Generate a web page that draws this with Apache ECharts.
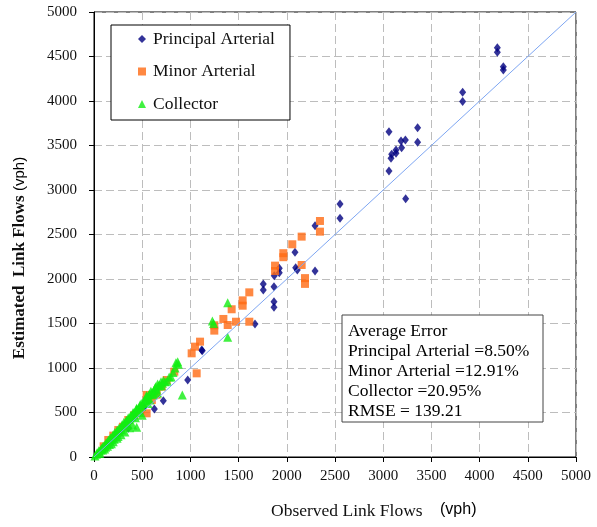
<!DOCTYPE html>
<html>
<head>
<meta charset="utf-8">
<script src="https://cdn.jsdelivr.net/npm/echarts@6/dist/echarts.min.js"></script>
<style>
html,body{margin:0;padding:0;background:#fff;}
#chart{width:597px;height:527px;}
</style>
</head>
<body>
<div id="chart"></div>
<script>
// ---- data (observed, estimated) ----
const seriesNames = ['Principal Arterial', 'Minor Arterial', 'Collector'];
const axisTicks = [0, 500, 1000, 1500, 2000, 2500, 3000, 3500, 4000, 4500, 5000];

const principalArterial = [
  [4184,4599],[4184,4547],[4246,4386],[4246,4348],[3824,4098],[3824,3993],
  [3357,3700],[3357,3536],[3060,3655],[3060,3213],[3081,3356],[3088,3401],
  [3133,3449],[3133,3412],[3185,3551],[3230,3562],[3191,3476],[3233,2902],
  [2552,2843],[2552,2682],[2293,2599],[2085,2300],[2092,2127],[2109,2101],
  [2293,2090],[1922,2120],[1922,2071],[1870,2037],[1756,1944],[1756,1876],
  [1867,1914],[1867,1745],[1867,1682],[1670,1494],[1117,1202],[1123,1195],
  [972,865],[633,716],[719,633],[626,539],[356,322],[520,560],[250,265]
];

const minorArterial = [
  [2344,2652],[2344,2532],[2154,2476],[2057,2390],[1964,2290],[1964,2245],
  [1878,2150],[1878,2090],[2154,2157],[2189,2010],[2189,1945],[1611,1850],
  [1542,1760],[1542,1700],[1428,1660],[1342,1551],[1473,1520],[1387,1483],
  [1611,1520],[1248,1480],[1248,1420],[1100,1296],[1048,1240],[1013,1165],
  [1065,940],[833,958],[754,865],[702,790],[546,697],[546,491],[356,416],
  [252,303],[148,191],[420,470],[600,640],[650,700],[480,520],[300,340],
  [200,240],[100,120]
];

const collector = [
  [1387,1734],[1228,1528],[1387,1345],[868,1071],[875,1041],[916,697],
  [695,846],[667,798],[633,772],[581,708],[546,678],[477,584],[443,547],
  [408,491],[443,333],[287,303],[737,846],
  [10,10],[25,30],[40,45],[55,65],[70,80],[85,100],[100,115],[115,135],
  [130,150],[145,170],[160,185],[175,200],[190,220],[205,240],[220,255],
  [235,275],[250,290],[265,310],[280,330],[300,350],[315,370],[330,385],
  [345,405],[360,420],[375,440],[390,455],[410,475],[425,500],[460,530],
  [495,570],[510,600],[530,640],[560,660],[600,720],[620,745],[650,760],
  [680,810],[710,830],[760,850],[800,900],[840,1000],[850,1060],
  [60,40],[110,90],[160,140],[200,170],[240,210],[280,250],[320,280],
  [370,330],[400,360],[500,470],[250,230],[180,150],[120,110],
  [30,45],[50,70],[75,95],[95,125],[125,160],[150,190],[170,215],[195,245],
  [215,275],[240,300],[260,325],[290,360],[310,390],[335,410],[355,440],
  [380,465],[405,500],[440,540],[470,560],[490,600],[520,630],[545,690],
  [570,700],[590,740],[640,790],[660,820],[700,800],[720,860],[780,900],
  [820,950],[560,600],[470,500],[430,440],[340,350],[210,200],[140,120],
  [90,80],[620,700],[660,720],[580,640],[1240,1500]
];

const statsLines = [
  'Average Error',
  'Principal Arterial =8.50%',
  'Minor Arterial =12.91%',
  'Collector =20.95%',
  'RMSE = 139.21'
];

const SERIF = '"Liberation Serif", "DejaVu Serif", serif';
const SANS = '"Liberation Sans", Arial, sans-serif';

const chart = echarts.init(document.getElementById('chart'), null, {renderer: 'canvas'});

const axisCommon = {
  type: 'value',
  min: axisTicks[0],
  max: axisTicks[axisTicks.length - 1],
  interval: axisTicks[1] - axisTicks[0],
  axisLine: {show: true, lineStyle: {color: '#000', width: 1}},
  axisTick: {show: true, inside: false, length: 5, lineStyle: {color: '#000'}},
  splitLine: {show: true, lineStyle: {color: '#bdbdbd', type: [8, 4], width: 1}},
  axisLabel: {fontFamily: SERIF, fontSize: 15, color: '#111', formatter: function (v) { return String(v); }}
};

chart.setOption({
  backgroundColor: '#fff',
  animation: false,
  grid: {left: 94, right: 21, top: 12, bottom: 70, show: true, borderColor: '#000', borderWidth: 1, backgroundColor: 'transparent'},
  xAxis: Object.assign({}, axisCommon, {axisLabel: Object.assign({}, axisCommon.axisLabel, {margin: 12})}),
  yAxis: Object.assign({}, axisCommon, {axisLabel: Object.assign({}, axisCommon.axisLabel, {margin: 17})}),
  legend: {
    orient: 'vertical',
    left: 111, top: 25,
    data: seriesNames,
    backgroundColor: '#fff',
    borderColor: '#000', borderWidth: 1,
    padding: [5, 15, 7, 27],
    itemGap: 14.5,
    itemWidth: 8, itemHeight: 8,
    textStyle: {fontFamily: SERIF, fontSize: 17.5, color: '#111', padding: [0, 0, 0, 2]}
  },
  series: [
    {
      name: seriesNames[0], type: 'scatter', data: principalArterial,
      symbol: 'diamond', symbolSize: [7, 9],
      itemStyle: {color: '#000080'}, z: 2
    },
    {
      name: seriesNames[1], type: 'scatter', data: minorArterial,
      symbol: 'rect', symbolSize: 8,
      itemStyle: {color: '#ff6a13'}, z: 3
    },
    {
      name: seriesNames[2], type: 'scatter', data: collector,
      symbol: 'triangle', symbolSize: 9,
      itemStyle: {color: '#11ee11'}, z: 4
    },
    {
      name: 'y=x', type: 'line', data: [[axisTicks[0], axisTicks[0]], [axisTicks[axisTicks.length-1], axisTicks[axisTicks.length-1]]],
      showSymbol: false, symbol: 'none', silent: true,
      lineStyle: {color: '#7ea6f2', width: 1}, z: 5
    }
  ],
  graphic: [
    {
      type: 'text', left: 271, top: 502,
      style: {text: 'Observed Link Flows', font: '17.5px ' + SERIF, fill: '#111'}
    },
    {
      type: 'text', left: 440, top: 502,
      style: {text: '(vph)', font: '16px ' + SANS, fill: '#000'}
    },
    {
      type: 'text', x: 20, y: 258, rotation: Math.PI / 2,
      style: {
        text: '{a|Estimated  Link Flows }{b|(vph)}',
        align: 'center', verticalAlign: 'middle',
        rich: {
          a: {fontFamily: SERIF, fontSize: 17, fontWeight: 'bold', fill: '#111'},
          b: {fontFamily: SANS, fontSize: 15, fill: '#000'}
        }
      }
    },
    {
      type: 'rect', shape: {x: 342, y: 315, width: 201, height: 107},
      style: {fill: '#fff', stroke: '#444', lineWidth: 1}, z: 100
    },
    {
      type: 'text', x: 348, y: 321, z: 101,
      style: {text: statsLines.join('\n'), font: '17.5px ' + SERIF, fill: '#000', lineHeight: 20, verticalAlign: 'top'}
    }
  ]
});
</script>
</body>
</html>
